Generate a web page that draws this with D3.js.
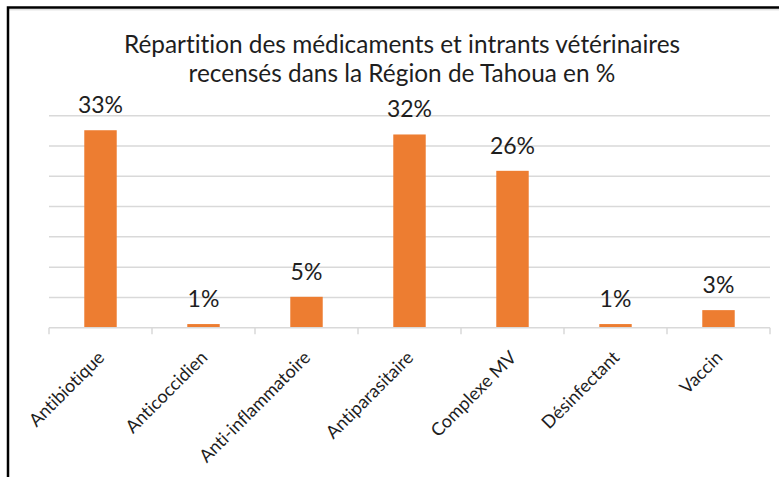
<!DOCTYPE html>
<html>
<head>
<meta charset="utf-8">
<script src="https://cdn.jsdelivr.net/npm/d3@7"></script>
<style>
  body { margin: 0; background: #fff; }
  svg { display: block; font-family: Lato, "Open Sans", sans-serif; font-variant-ligatures: none; }
</style>
</head>
<body>
<script>
  // data
  var categories = ["Antibiotique", "Anticoccidien", "Anti-inflammatoire", "Antiparasitaire",
                    "Complexe MV", "Désinfectant", "Vaccin"];
  var values = [32.6, 0.6, 5.1, 31.9, 25.9, 0.6, 2.9];
  var gridTicks = [0, 5, 10, 15, 20, 25, 30, 35];
  var titleLines = ["Répartition des médicaments et intrants vétérinaires",
                    "recensés dans la Région de Tahoua en %"];

  var data = categories.map(function(c, i) {
    return { cat: c, value: values[i] };
  });

  var W = 779, H = 477;
  var margin = { top: 115.7, right: 9, bottom: 149.3, left: 49 };
  var width = W - margin.left - margin.right,
      height = H - margin.top - margin.bottom;

  var svg = d3.select("body").append("svg")
    .attr("width", W)
    .attr("height", H);

  // frame (left + top only)
  svg.append("line")
    .attr("x1", 9).attr("x2", W).attr("y1", 9.8).attr("y2", 9.8)
    .attr("stroke", "#d4d4d4").attr("stroke-width", 1);
  svg.append("path")
    .attr("d", "M8," + H + "V7.6H" + W)
    .attr("fill", "none")
    .attr("stroke", "#000")
    .attr("stroke-width", 2.5);

  // title
  svg.append("text")
    .attr("x", 402)
    .attr("y", 53)
    .attr("text-anchor", "middle")
    .style("font-size", "24.4px")
    .style("fill", "#1e1e1e")
    .selectAll("tspan")
    .data(titleLines)
    .enter().append("tspan")
    .attr("x", 402)
    .attr("dy", function(d, i) { return i === 0 ? 0 : 28.5; })
    .text(function(d) { return d; });

  var g = svg.append("g")
    .attr("transform", "translate(" + margin.left + "," + margin.top + ")");

  var pad = 0.685;
  var x = d3.scaleBand()
    .domain(categories)
    .range([0, width])
    .paddingInner(pad)
    .paddingOuter(pad / 2);

  var y = d3.scaleLinear()
    .domain([0, 35])
    .range([height, 0]);

  // gridlines
  g.append("g")
    .attr("class", "grid")
    .selectAll("line")
    .data(gridTicks.slice(1))
    .enter().append("line")
    .attr("x1", 0).attr("x2", width)
    .attr("y1", function(d) { return y(d); })
    .attr("y2", function(d) { return y(d); })
    .attr("stroke", "#d9d9d9")
    .attr("stroke-width", 1.5);

  // bars
  g.selectAll(".bar")
    .data(data)
    .enter().append("rect")
    .attr("class", "bar")
    .attr("x", function(d) { return x(d.cat); })
    .attr("width", x.bandwidth())
    .attr("y", function(d) { return y(d.value); })
    .attr("height", function(d) { return height - y(d.value); })
    .style("fill", "#ed7d31");

  // x axis: baseline + ticks at category boundaries
  var step = x.step();
  var bounds = categories.map(function(c) { return x(c) - step * pad / 2; });
  bounds.push(width);

  g.append("line")
    .attr("x1", 0).attr("x2", width)
    .attr("y1", height).attr("y2", height)
    .attr("stroke", "#d9d9d9")
    .attr("stroke-width", 1.5);

  g.append("g")
    .selectAll("line")
    .data(bounds)
    .enter().append("line")
    .attr("x1", function(d) { return d; })
    .attr("x2", function(d) { return d; })
    .attr("y1", height)
    .attr("y2", height + 6.5)
    .attr("stroke", "#d9d9d9")
    .attr("stroke-width", 1.5);

  // category labels, rotated
  g.append("g")
    .selectAll("text")
    .data(categories)
    .enter().append("text")
    .attr("transform", function(d) {
      return "translate(" + (x(d) + x.bandwidth() / 2 + 5) + "," + (height + 31) + ") rotate(-45)";
    })
    .attr("text-anchor", "end")
    .style("font-size", "18px")
    .style("fill", "#1e1e1e")
    .text(function(d) { return d; });

  // value labels
  var fmt = function(v) { return d3.format(".0f")(v) + "%"; };
  g.selectAll(".val")
    .data(data)
    .enter().append("text")
    .attr("class", "val")
    .attr("x", function(d) { return x(d.cat) + x.bandwidth() / 2; })
    .attr("y", function(d) { return y(d.value) - 17; })
    .attr("text-anchor", "middle")
    .style("font-size", "23px")
    .style("fill", "#1e1e1e")
    .text(function(d) { return fmt(d.value); });
</script>
</body>
</html>
